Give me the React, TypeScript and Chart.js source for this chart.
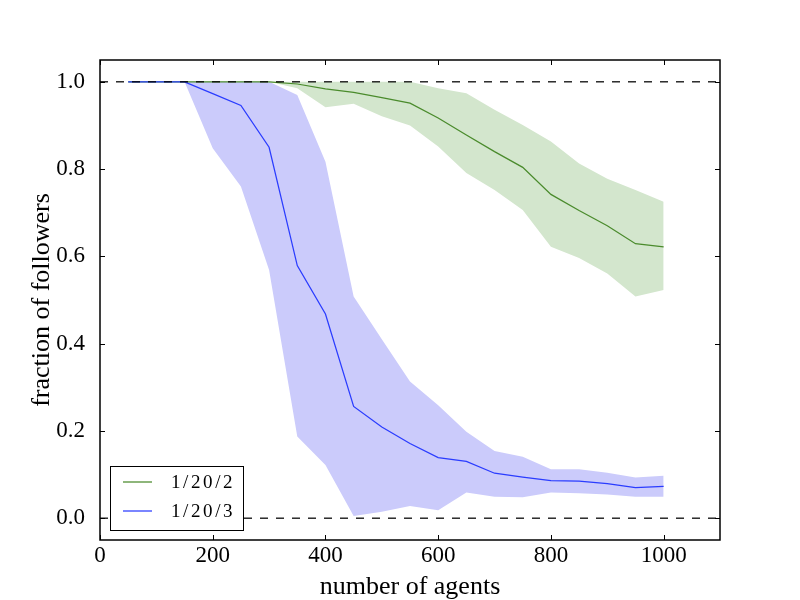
import React, { useEffect, useRef } from "react";
import { Chart, registerables } from "chart.js";

Chart.register(...registerables);

// ---- data ----
const AGENTS = [50, 100, 150, 200, 250, 300, 350, 400, 450, 500, 550, 600, 650, 700, 750, 800, 850, 900, 950, 1000];

const MEAN_1_20_2 = [1.0, 1.0, 1.0, 1.0, 1.0, 1.0, 0.995, 0.984, 0.976, 0.964, 0.951, 0.917, 0.878, 0.840, 0.804, 0.742, 0.705, 0.670, 0.629, 0.622];
const UPPER_1_20_2 = [1.0, 1.0, 1.0, 1.0, 1.0, 1.0, 1.0, 1.0, 1.0, 1.0, 1.0, 0.985, 0.974, 0.936, 0.901, 0.863, 0.813, 0.778, 0.752, 0.725];
const LOWER_1_20_2 = [1.0, 1.0, 1.0, 1.0, 1.0, 1.0, 0.985, 0.942, 0.950, 0.921, 0.900, 0.852, 0.791, 0.752, 0.706, 0.622, 0.596, 0.561, 0.508, 0.523];

const MEAN_1_20_3 = [1.0, 1.0, 1.0, 0.973, 0.946, 0.850, 0.579, 0.468, 0.256, 0.209, 0.171, 0.139, 0.130, 0.103, 0.094, 0.086, 0.085, 0.079, 0.070, 0.073];
const UPPER_1_20_3 = [1.0, 1.0, 1.0, 1.0, 1.0, 1.0, 0.970, 0.817, 0.508, 0.410, 0.313, 0.259, 0.198, 0.154, 0.141, 0.112, 0.112, 0.104, 0.093, 0.097];
const LOWER_1_20_3 = [1.0, 1.0, 1.0, 0.848, 0.760, 0.569, 0.187, 0.122, 0.005, 0.015, 0.028, 0.018, 0.059, 0.049, 0.048, 0.059, 0.057, 0.054, 0.049, 0.049];

const SERIES_LABELS = ["1/20/2", "1/20/3"];
const REF_LEVELS = [1.0, 0.0];
const X_RANGE = [0, 1100];
const Y_RANGE = [-0.05, 1.05];
const X_TICKS = [0, 200, 400, 600, 800, 1000];
const Y_TICKS = [0.0, 0.2, 0.4, 0.6, 0.8, 1.0];
const X_TITLE = "number of agents";
const Y_TITLE = "fraction of followers";

// ---- styles ----
const GREEN_LINE = "#4a8b2c";
const GREEN_BAND = "#d3e6cd";
const BLUE_LINE = "#2a3cff";
const BLUE_BAND = "#cbcbfb";
const SERIF = "'Liberation Serif', 'Times New Roman', serif";

const toPts = (ys: number[]) => AGENTS.map((x, i) => ({ x, y: ys[i] }));

const framePlugin = {
  id: "mplFrame",
  afterDatasetsDraw(chart: any) {
    const { ctx, chartArea, scales } = chart;
    const { left, right, top, bottom } = chartArea;
    const xs = scales.x;
    const ys = scales.y;
    ctx.save();
    ctx.strokeStyle = "#000";
    ctx.lineWidth = 1;
    ctx.beginPath();
    const tl = 5;
    for (const v of X_TICKS) {
      const px = Math.round(xs.getPixelForValue(v)) + 0.5;
      ctx.moveTo(px, bottom);
      ctx.lineTo(px, bottom - tl);
      ctx.moveTo(px, top);
      ctx.lineTo(px, top + tl);
    }
    for (const v of Y_TICKS) {
      const py = Math.round(ys.getPixelForValue(v)) + 0.5;
      ctx.moveTo(left, py);
      ctx.lineTo(left + tl, py);
      ctx.moveTo(right, py);
      ctx.lineTo(right - tl, py);
    }
    ctx.stroke();
    ctx.lineWidth = 1.5;
    ctx.strokeRect(left, top, right - left, bottom - top);
    ctx.restore();
  },
};

const legendPlugin = {
  id: "mplLegend",
  afterDraw(chart: any) {
    const { ctx, chartArea } = chart;
    const items = chart.data.datasets.filter((d: any) => d.label);
    const bx = chartArea.left + 10;
    const bw = 133;
    const rowH = 29;
    const bh = 64;
    const by = chartArea.bottom - 10 - bh;
    ctx.save();
    ctx.fillStyle = "#fff";
    ctx.fillRect(bx, by, bw, bh);
    ctx.strokeStyle = "#000";
    ctx.lineWidth = 1;
    ctx.strokeRect(Math.round(bx) + 0.5, Math.round(by) + 0.5, bw, bh);
    ctx.font = `19px ${SERIF}`;
    (ctx as any).letterSpacing = "2.6px";
    ctx.textBaseline = "middle";
    ctx.textAlign = "left";
    items.forEach((d: any, i: number) => {
      const cy = by + 16 + i * rowH;
      ctx.strokeStyle = d.borderColor;
      ctx.lineWidth = 1.25;
      ctx.beginPath();
      ctx.moveTo(bx + 13, cy);
      ctx.lineTo(bx + 42, cy);
      ctx.stroke();
      ctx.fillStyle = "#000";
      ctx.fillText(d.label, bx + 61, cy + 1);
    });
    ctx.restore();
  },
};

export default function App() {
  const ref = useRef<HTMLCanvasElement | null>(null);

  useEffect(() => {
    document.body.style.margin = "0";
    const canvas = ref.current;
    if (!canvas) return;

    const band = (data: number[], color: string, order: number, fill: any) => ({
      data: toPts(data),
      borderWidth: 0,
      pointRadius: 0,
      backgroundColor: color,
      fill,
      order,
      tension: 0,
    });

    const datasets: any[] = [
      band(UPPER_1_20_2, GREEN_BAND, 6, false),
      band(LOWER_1_20_2, GREEN_BAND, 6, "-1"),
      band(UPPER_1_20_3, BLUE_BAND, 4, false),
      band(LOWER_1_20_3, BLUE_BAND, 4, "-1"),
      {
        label: SERIES_LABELS[0],
        data: toPts(MEAN_1_20_2),
        borderColor: GREEN_LINE,
        borderWidth: 1.25,
        pointRadius: 0,
        fill: false,
        order: 3,
      },
      {
        label: SERIES_LABELS[1],
        data: toPts(MEAN_1_20_3),
        borderColor: BLUE_LINE,
        borderWidth: 1.25,
        pointRadius: 0,
        fill: false,
        order: 2,
      },
      ...REF_LEVELS.map((lv) => ({
        data: [
          { x: X_RANGE[0], y: lv },
          { x: X_RANGE[1], y: lv },
        ],
        borderColor: "#000",
        borderWidth: 1.25,
        borderDash: [8, 8],
        pointRadius: 0,
        fill: false,
        order: 1,
      })),
    ];

    const chart = new Chart(canvas, {
      type: "line",
      data: { datasets },
      options: {
        animation: false,
        responsive: false,
        devicePixelRatio: 1,
        layout: { padding: { left: 0, top: 60, right: 80, bottom: 0 } },
        plugins: {
          legend: { display: false },
          tooltip: { enabled: false },
        },
        scales: {
          x: {
            type: "linear",
            min: X_RANGE[0],
            max: X_RANGE[1],
            grid: { display: false },
            border: { display: false },
            afterBuildTicks: (s: any) => {
              s.ticks = X_TICKS.map((v) => ({ value: v }));
            },
            afterFit: (s: any) => {
              s.height = 60;
            },
            ticks: {
              padding: -6,
              maxRotation: 0,
              autoSkip: false,
              color: "#000",
              font: { family: SERIF, size: 23 },
              callback: (v: any) => String(v),
            },
            title: {
              display: true,
              text: X_TITLE,
              color: "#000",
              font: { family: SERIF, size: 26 },
              padding: { top: 0, bottom: -3 },
            },
          },
          y: {
            type: "linear",
            min: Y_RANGE[0],
            max: Y_RANGE[1],
            grid: { display: false },
            border: { display: false },
            afterBuildTicks: (s: any) => {
              s.ticks = Y_TICKS.map((v) => ({ value: v }));
            },
            afterFit: (s: any) => {
              s.width = 100;
            },
            ticks: {
              padding: 7,
              autoSkip: false,
              color: "#000",
              font: { family: SERIF, size: 23 },
              callback: (v: any) => Number(v).toFixed(1),
            },
            title: {
              display: true,
              text: Y_TITLE,
              color: "#000",
              font: { family: SERIF, size: 26 },
              padding: { top: 27, bottom: 0 },
            },
          },
        },
      },
      plugins: [framePlugin, legendPlugin],
    } as any);

    return () => chart.destroy();
  }, []);

  return <canvas ref={ref} width={800} height={600} style={{ display: "block" }} />;
}
